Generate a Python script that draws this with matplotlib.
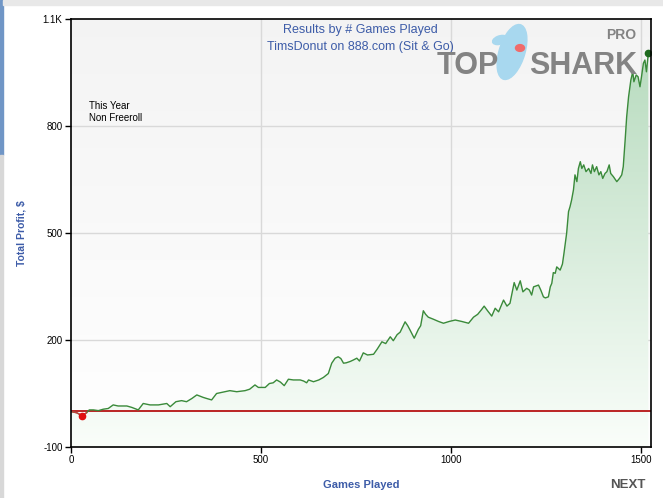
import numpy as np
import matplotlib
matplotlib.use('Agg')
import matplotlib.pyplot as plt
from matplotlib.patches import Ellipse, Circle, Rectangle

plt.rcParams['font.family'] = ['Liberation Sans', 'DejaVu Sans']

# data (games played, total profit $)
games = [0, 2, 15, 29, 41, 48, 59, 72, 85, 98, 111, 124, 147, 160, 177, 190, 208,
         230, 252, 261, 276, 291, 304, 318, 331, 348, 357, 370, 383, 396, 405, 418,
         436, 458, 470, 484, 493, 511, 522, 532, 541, 551, 561, 572, 585, 603, 612, 620,
         625, 638, 652, 664, 677, 686, 695, 703, 710, 717, 724, 735, 743, 752, 759, 769,
         780, 796, 806, 818, 828, 840, 848, 858, 866, 879, 886, 892, 903, 914, 920, 927,
         933, 940, 954, 967, 980, 995, 1011, 1028, 1046, 1059, 1070, 1080, 1087, 1096,
         1107, 1116, 1125, 1138, 1147, 1155, 1160, 1166, 1173, 1182, 1189, 1199, 1206,
         1212, 1217, 1230, 1236, 1243, 1248, 1256, 1261, 1265, 1269, 1274, 1278, 1287,
         1293, 1297, 1304, 1309, 1313, 1317, 1322, 1326, 1331, 1335, 1340, 1344, 1349,
         1355, 1362, 1368, 1372, 1377, 1383, 1389, 1394, 1399, 1405, 1410, 1416, 1420,
         1427, 1436, 1443, 1449, 1453, 1458, 1462, 1467, 1473, 1478, 1481, 1487, 1492,
         1497, 1501, 1506, 1510, 1514, 1519]
profit = [0, -1, -4, -12, -4, 4, 4, 2, 6, 8, 18, 15, 15, 11, 4, 22, 18,
          18, 22, 13, 27, 30, 27, 36, 46, 39, 36, 32, 50, 53, 55, 58,
          55, 58, 62, 74, 67, 67, 78, 80, 88, 82, 72, 90, 88, 88, 85, 80,
          88, 83, 88, 95, 106, 135, 149, 153, 148, 135, 136, 140, 144, 149, 141, 164,
          158, 160, 175, 195, 190, 209, 198, 215, 222, 251, 240, 228, 205, 230, 240, 282,
          272, 264, 258, 252, 247, 252, 256, 252, 247, 264, 272, 285, 295, 282,
          267, 289, 279, 312, 295, 303, 330, 361, 340, 366, 335, 345, 340,
          326, 349, 354, 340, 321, 318, 321, 349, 359, 389, 387, 405, 396,
          413, 443, 499, 560, 574, 592, 621, 663, 644, 681, 700, 681, 691,
          672, 681, 667, 691, 672, 686, 663, 672, 653, 667, 672, 691, 667,
          658, 644, 653, 663, 686, 761, 826, 882, 929, 952, 924, 943, 938,
          910, 938, 976, 985, 952, 1004]

yticks = [-100, 200, 500, 800, 1100]
ytick_labels = ['-100', '200', '500', '800', '1.1K']
xticks = [0, 500, 1000, 1500]

games = np.array(games)
profit = np.array(profit)
xmax = 1526
ymin, ymax = -100, 1100

fig = plt.figure(figsize=(6.63, 4.98), dpi=100)
ax = fig.add_axes([71/663, 1-447/498, 580/663, 428/498])

# light grey backdrop gradient
bg = np.linspace(1.0, 0.955, 256).reshape(-1, 1)
bg = np.dstack([bg, bg, bg])
ax.imshow(bg, extent=[0, xmax, ymin, ymax], origin='lower', aspect='auto', zorder=0)

# grid
for g in [200, 500, 800]:
    ax.axhline(g, color='#d9d9d9', lw=1, zorder=0.5)
for g in [500, 1000, 1500]:
    ax.axvline(g, color='#d9d9d9', lw=1, zorder=0.5)

# green gradient under the curve
t = np.linspace(0, 1, 256).reshape(-1, 1)
top = np.array([0.70, 0.85, 0.73])
bot = np.array([0.98, 0.995, 0.98])
fillimg = bot + (top - bot) * t[..., None]
im = ax.imshow(fillimg, extent=[0, xmax, ymin, ymax], origin='lower', aspect='auto', zorder=1)
poly = ax.fill_between(games, profit, ymin, color='none', lw=0)
im.set_clip_path(poly.get_paths()[0], transform=ax.transData)

# logo (drawn behind the line)
fig.patches.append(Ellipse((512/663, 1-52/498), 26/663, 56/498, angle=-12,
                           color='#a8d8ef', transform=fig.transFigure, zorder=2))
fig.patches.append(Ellipse((500/663, 1-40/498), 16/663, 8/498, angle=30,
                           color='#a8d8ef', transform=fig.transFigure, zorder=2))
fig.patches.append(Circle((520/663, 1-48/498), 4.5/663, color='#f06b6b',
                          transform=fig.transFigure, zorder=3))
fig.text(437/663, 1-74/498, 'TOP', fontsize=22, fontweight='bold', color='#838383',
         va='baseline', ha='left', zorder=4)
fig.text(529/663, 1-74/498, 'SHARK', fontsize=22, fontweight='bold', color='#838383',
         va='baseline', ha='left', zorder=4)
fig.text(606/663, 1-39/498, 'PRO', fontsize=10, fontweight='bold', color='#838383',
         va='baseline', ha='left', zorder=4)

# zero line
ax.axhline(0, color='#b00000', lw=1.2, zorder=3)

# profit line, negative stretch in red
ax.plot(games, profit, color='#3a8a3a', lw=1.0, zorder=4)
neg = games <= 41
ax.plot(games[neg], profit[neg], color='#c83c3c', lw=1.0, zorder=4)
imin = np.argmin(profit)
ax.plot(games[imin], profit[imin], 'o', color='#e01010', ms=4.5, zorder=5)
ax.plot(games[-1], profit[-1], 'o', color='#1e6a1e', ms=4.5, zorder=5)

ax.set_xlim(0, xmax)
ax.set_ylim(ymin, ymax)
ax.set_yticks(yticks)
ax.set_yticklabels(ytick_labels)
ax.set_xticks(xticks)
ax.tick_params(labelsize=7, length=4, width=1, direction='out', pad=2)
for s in ax.spines.values():
    s.set_color('black')
    s.set_linewidth(1.2)
    s.set_zorder(6)

ax.set_xlabel('Games Played', fontsize=8, fontweight='bold', color='#3d5ca8')
ax.set_ylabel('Total Profit, $', fontsize=7.5, fontweight='bold', color='#3d5ca8')
ax.xaxis.set_label_coords(0.5, -33/428)
ax.yaxis.set_label_coords(-44/580, 0.5)

fig.text(360/663, 1-30/498, 'Results by # Games Played', fontsize=9, color='#3d5ca8',
         ha='center', va='center')
fig.text(360/663, 1-47/498, 'TimsDonut on 888.com (Sit & Go)', fontsize=9, color='#3d5ca8',
         ha='center', va='center')
fig.text(89/663, 1-112/498, 'This Year\nNon Freeroll', fontsize=7, color='black',
         ha='left', va='center', linespacing=1.3)
fig.text(628/663, 1-485/498, 'NEXT', fontsize=9.5, fontweight='bold', color='#555555',
         ha='center', va='center')

# window edges
fig.patches.append(Rectangle((0, 1-155/498), 3/663, 155/498, color='#7096c6',
                             transform=fig.transFigure, zorder=0))
fig.patches.append(Rectangle((0, 0), 3/663, 1-155/498, color='#d8d8d8',
                             transform=fig.transFigure, zorder=0))
fig.patches.append(Rectangle((3/663, 1-5/498), 1, 5/498, color='#e8e8e8',
                             transform=fig.transFigure, zorder=0))

fig.savefig('out.png', dpi=100)
